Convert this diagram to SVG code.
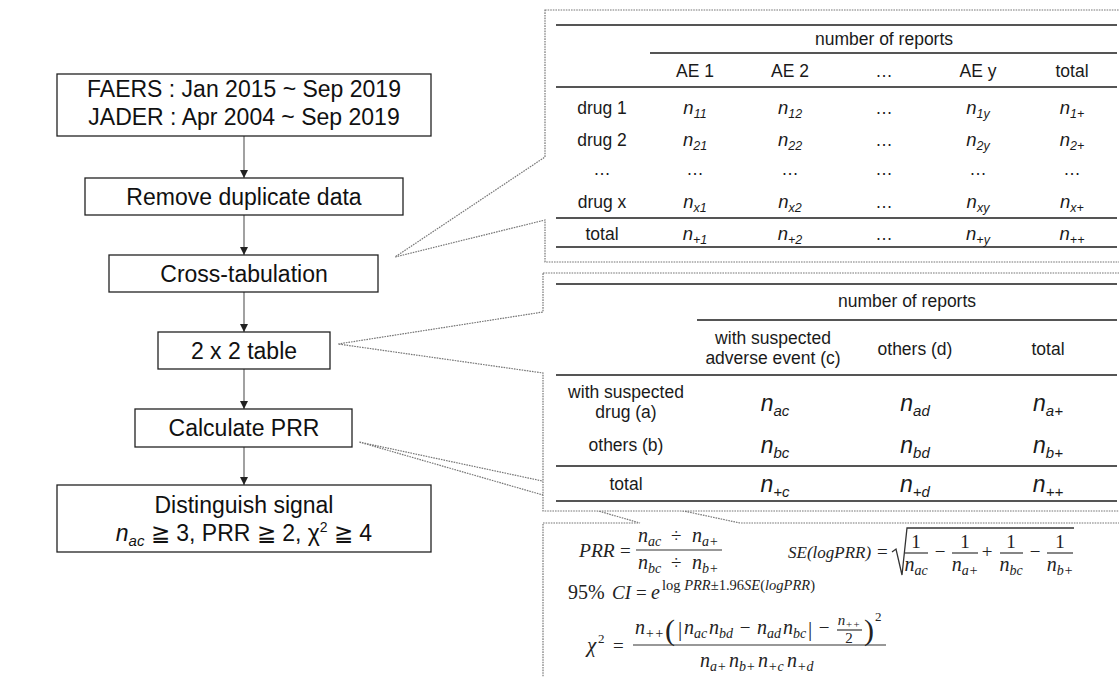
<svg xmlns="http://www.w3.org/2000/svg" width="1119" height="677" viewBox="0 0 1119 677">
  <style>
    .box { fill: #fff; stroke: #222; stroke-width: 1.3; }
    .lbl { font-family: "Liberation Sans", Arial, sans-serif; font-size: 23px; fill: #111; text-anchor: middle; }
    .flow { stroke: #555; stroke-width: 1.1; fill: none; marker-end: url(#arr); }
    .callout { fill: #fff; stroke: #777; stroke-width: 1.2; stroke-dasharray: 1.6 1; }
    .rule { stroke: #555; stroke-width: 2; }
    .t { font-family: "Liberation Sans", Arial, sans-serif; font-size: 17.5px; fill: #1a1a1a; text-anchor: middle; }
    .n1 { font-family: "Liberation Sans", Arial, sans-serif; font-size: 18.5px; font-style: italic; fill: #1a1a1a; text-anchor: middle; }
    .n1 tspan { font-size: 12.5px; }
    .n2 { font-family: "Liberation Sans", Arial, sans-serif; font-size: 23px; font-style: italic; fill: #1a1a1a; text-anchor: middle; }
    .n2 tspan { font-size: 15px; }
    .m { font-family: "Liberation Serif", "Times New Roman", serif; font-size: 19px; fill: #222; }
    .mi { font-family: "Liberation Serif", "Times New Roman", serif; font-size: 20px; font-style: italic; fill: #222; }
    .mi tspan { font-size: 14px; }
    .mc { text-anchor: middle; }
    .bar { stroke: #333; stroke-width: 1.2; }
  </style>
  <defs>
    <marker id="arr" markerUnits="userSpaceOnUse" markerWidth="8" markerHeight="8" refX="8" refY="4" orient="auto">
      <path d="M0,0 L8,4 L0,8 z" fill="#222"/>
    </marker>
  </defs>

  <rect width="1119" height="677" fill="#fff"/>

  <!-- connectors: flow arrows -->
  <g id="connectors">
    <line class="flow" x1="244" y1="136" x2="244" y2="178"/>
    <line class="flow" x1="244" y1="215" x2="244" y2="255"/>
    <line class="flow" x1="244" y1="292" x2="244" y2="332"/>
    <line class="flow" x1="244" y1="369" x2="244" y2="409"/>
    <line class="flow" x1="244" y1="447" x2="244" y2="485"/>
  </g>

  <!-- flow steps -->
  <g id="step-source">
    <rect class="box" x="57" y="74" width="374" height="62"/>
    <text class="lbl" x="244" y="97">FAERS : Jan 2015 ~ Sep 2019</text>
    <text class="lbl" x="244" y="125">JADER : Apr 2004 ~ Sep 2019</text>
  </g>
  <g id="step-dedup">
    <rect class="box" x="85" y="178" width="318" height="37"/>
    <text class="lbl" x="244" y="205">Remove duplicate data</text>
  </g>
  <g id="step-crosstab">
    <rect class="box" x="109" y="255" width="269" height="37"/>
    <text class="lbl" x="244" y="282">Cross-tabulation</text>
  </g>
  <g id="step-2x2">
    <rect class="box" x="158" y="332" width="172" height="37"/>
    <text class="lbl" x="244" y="359">2 x 2 table</text>
  </g>
  <g id="step-prr">
    <rect class="box" x="135" y="409" width="217" height="38"/>
    <text class="lbl" x="244" y="436">Calculate PRR</text>
  </g>
  <g id="step-signal">
    <rect class="box" x="57" y="485" width="374" height="67"/>
    <text class="lbl" x="244" y="513">Distinguish signal</text>
    <text class="lbl" x="244" y="541"><tspan font-style="italic">n</tspan><tspan font-style="italic" style="font-size:15px" dy="5">ac</tspan><tspan dy="-5"> ≧ 3, PRR ≧ 2, χ</tspan><tspan style="font-size:14px" dy="-9">2</tspan><tspan dy="9">  ≧ 4</tspan></text>
  </g>

  <!-- callout: formulas (drawn first, its pointer passes under the 2x2 panel) -->
  <g id="callout-formulas">
    <path class="callout" d="M543,523 L640,523 L359,442 L740,523 L1125,523 L1125,690 L543,690 Z"/>
    <!-- PRR -->
    <text class="mi" x="579" y="557" style="font-size:19.5px">PRR</text>
    <text class="m" x="620" y="557">=</text>
    <line class="bar" x1="636" y1="550" x2="722" y2="550"/>
    <text class="mi" x="638" y="542">n<tspan dy="4">ac</tspan></text>
    <text class="m" x="671" y="542">÷</text>
    <text class="mi" x="692" y="542">n<tspan dy="4">a+</tspan></text>
    <text class="mi" x="638" y="569">n<tspan dy="4">bc</tspan></text>
    <text class="m" x="671" y="569">÷</text>
    <text class="mi" x="692" y="569">n<tspan dy="4">b+</tspan></text>
    <!-- SE(logPRR) -->
    <text class="mi" x="788" y="558" style="font-size:17px">SE(logPRR)</text>
    <text class="m" x="877" y="558">=</text>
    <path d="M892,552 L896,549 L902,575 L907,528 L1074,528" fill="none" stroke="#333" stroke-width="1.3"/>
    <text class="m mc" x="916" y="548">1</text>
    <line class="bar" x1="905" y1="553" x2="928" y2="553"/>
    <text class="mi mc" x="916" y="571">n<tspan dy="4">ac</tspan></text>
    <text class="m mc" x="940" y="558">−</text>
    <text class="m mc" x="965" y="548">1</text>
    <line class="bar" x1="952" y1="553" x2="978" y2="553"/>
    <text class="mi mc" x="965" y="571">n<tspan dy="4">a+</tspan></text>
    <text class="m mc" x="987" y="558">+</text>
    <text class="m mc" x="1011" y="548">1</text>
    <line class="bar" x1="1000" y1="553" x2="1023" y2="553"/>
    <text class="mi mc" x="1011" y="571">n<tspan dy="4">bc</tspan></text>
    <text class="m mc" x="1035" y="558">−</text>
    <text class="m mc" x="1060" y="548">1</text>
    <line class="bar" x1="1047" y1="553" x2="1073" y2="553"/>
    <text class="mi mc" x="1060" y="571">n<tspan dy="4">b+</tspan></text>
    <!-- 95% CI -->
    <text class="m" x="568" y="599" style="font-size:20px">95%</text>
    <text class="mi" x="612" y="599" style="font-size:19px">CI</text>
    <text class="m" x="636" y="599">=</text>
    <text class="mi" x="651" y="599">e</text>
    <text class="m" x="662" y="590" style="font-size:14.5px">log <tspan font-style="italic">PRR</tspan>±1.96<tspan font-style="italic">SE</tspan>(<tspan font-style="italic">logPRR</tspan>)</text>
    <!-- chi-square -->
    <text class="mi" x="587" y="652" style="font-size:21px">χ</text>
    <text class="m" x="598" y="643" style="font-size:13px">2</text>
    <text class="m" x="613" y="652">=</text>
    <line class="bar" x1="633" y1="645" x2="886" y2="645"/>
    <text class="mi" x="635" y="634">n<tspan dy="4">++</tspan></text>
    <text class="m" x="665" y="640" style="font-size:30px">(</text>
    <text class="m" x="678" y="636" style="font-size:21px">|</text>
    <text class="mi" x="684" y="634">n<tspan dy="4">ac</tspan></text>
    <text class="mi" x="709" y="634">n<tspan dy="4">bd</tspan></text>
    <text class="m mc" x="745" y="634">−</text>
    <text class="mi" x="757" y="634">n<tspan dy="4">ad</tspan></text>
    <text class="mi" x="783" y="634">n<tspan dy="4">bc</tspan></text>
    <text class="m" x="808" y="636" style="font-size:21px">|</text>
    <text class="m mc" x="824" y="634">−</text>
    <text class="mi mc" x="849" y="625" style="font-size:15px">n<tspan dy="3" style="font-size:11px">++</tspan></text>
    <line class="bar" x1="837" y1="630" x2="862" y2="630"/>
    <text class="m mc" x="849" y="643" style="font-size:15px">2</text>
    <text class="m" x="864" y="640" style="font-size:30px">)</text>
    <text class="m" x="875" y="621" style="font-size:13px">2</text>
    <text class="mi" x="700" y="667">n<tspan dy="4">a+</tspan></text>
    <text class="mi" x="729" y="667">n<tspan dy="4">b+</tspan></text>
    <text class="mi" x="758" y="667">n<tspan dy="4">+c</tspan></text>
    <text class="mi" x="787" y="667">n<tspan dy="4">+d</tspan></text>
  </g>

  <!-- callout: 2 x 2 table -->
  <g id="callout-2x2">
    <path class="callout" d="M543,273 L1125,273 L1125,511 L543,511 L543,373 L338,344 L543,312 Z"/>
    <line class="rule" x1="556" y1="284" x2="1117" y2="284"/>
    <line class="rule" x1="697" y1="320" x2="1117" y2="320"/>
    <line class="rule" x1="556" y1="375" x2="1117" y2="375"/>
    <line class="rule" x1="556" y1="466" x2="1117" y2="466"/>
    <line class="rule" x1="556" y1="501" x2="1117" y2="501"/>
    <text class="t" x="907" y="307">number of reports</text>
    <text class="t" x="773" y="344">with suspected</text>
    <text class="t" x="773" y="364">adverse event (c)</text>
    <text class="t" x="915" y="355">others (d)</text>
    <text class="t" x="1048" y="355">total</text>
    <text class="t" x="626" y="398">with suspected</text>
    <text class="t" x="626" y="418">drug (a)</text>
    <text class="t" x="626" y="451">others (b)</text>
    <text class="t" x="626" y="490">total</text>
    <text class="n2" x="775" y="411">n<tspan dy="5">ac</tspan></text>
    <text class="n2" x="915" y="411">n<tspan dy="5">ad</tspan></text>
    <text class="n2" x="1048" y="411">n<tspan dy="5">a+</tspan></text>
    <text class="n2" x="775" y="453">n<tspan dy="5">bc</tspan></text>
    <text class="n2" x="915" y="453">n<tspan dy="5">bd</tspan></text>
    <text class="n2" x="1048" y="453">n<tspan dy="5">b+</tspan></text>
    <text class="n2" x="775" y="492">n<tspan dy="5">+c</tspan></text>
    <text class="n2" x="915" y="492">n<tspan dy="5">+d</tspan></text>
    <text class="n2" x="1048" y="492">n<tspan dy="5">++</tspan></text>
  </g>

  <!-- callout: cross-tabulation table -->
  <g id="callout-crosstab">
    <path class="callout" d="M545,10 L1125,10 L1125,262 L545,262 L545,220 L395,257 L545,157 Z"/>
    <line class="rule" x1="556" y1="25" x2="1117" y2="25"/>
    <line class="rule" x1="650" y1="53" x2="1117" y2="53"/>
    <line class="rule" x1="556" y1="87" x2="1117" y2="87"/>
    <line class="rule" x1="556" y1="218" x2="1117" y2="218"/>
    <line class="rule" x1="556" y1="247" x2="1117" y2="247"/>
    <text class="t" x="884" y="45">number of reports</text>
    <text class="t" x="695" y="77">AE 1</text>
    <text class="t" x="790" y="77">AE 2</text>
    <text class="t" x="884" y="77">…</text>
    <text class="t" x="978" y="77">AE y</text>
    <text class="t" x="1072" y="77">total</text>
    <text class="t" x="602" y="114">drug 1</text>
    <text class="t" x="602" y="146">drug 2</text>
    <text class="t" x="602" y="175">…</text>
    <text class="t" x="602" y="208">drug x</text>
    <text class="t" x="602" y="240">total</text>
    <text class="n1" x="695" y="114">n<tspan dy="4">11</tspan></text>
    <text class="n1" x="790" y="114">n<tspan dy="4">12</tspan></text>
    <text class="t" x="884" y="114">…</text>
    <text class="n1" x="978" y="114">n<tspan dy="4">1y</tspan></text>
    <text class="n1" x="1072" y="114">n<tspan dy="4">1+</tspan></text>
    <text class="n1" x="695" y="146">n<tspan dy="4">21</tspan></text>
    <text class="n1" x="790" y="146">n<tspan dy="4">22</tspan></text>
    <text class="t" x="884" y="146">…</text>
    <text class="n1" x="978" y="146">n<tspan dy="4">2y</tspan></text>
    <text class="n1" x="1072" y="146">n<tspan dy="4">2+</tspan></text>
    <text class="t" x="695" y="175">…</text>
    <text class="t" x="790" y="175">…</text>
    <text class="t" x="884" y="175">…</text>
    <text class="t" x="978" y="175">…</text>
    <text class="t" x="1072" y="175">…</text>
    <text class="n1" x="695" y="208">n<tspan dy="4">x1</tspan></text>
    <text class="n1" x="790" y="208">n<tspan dy="4">x2</tspan></text>
    <text class="t" x="884" y="208">…</text>
    <text class="n1" x="978" y="208">n<tspan dy="4">xy</tspan></text>
    <text class="n1" x="1072" y="208">n<tspan dy="4">x+</tspan></text>
    <text class="n1" x="695" y="240">n<tspan dy="4">+1</tspan></text>
    <text class="n1" x="790" y="240">n<tspan dy="4">+2</tspan></text>
    <text class="t" x="884" y="240">…</text>
    <text class="n1" x="978" y="240">n<tspan dy="4">+y</tspan></text>
    <text class="n1" x="1072" y="240">n<tspan dy="4">++</tspan></text>
  </g>
</svg>
